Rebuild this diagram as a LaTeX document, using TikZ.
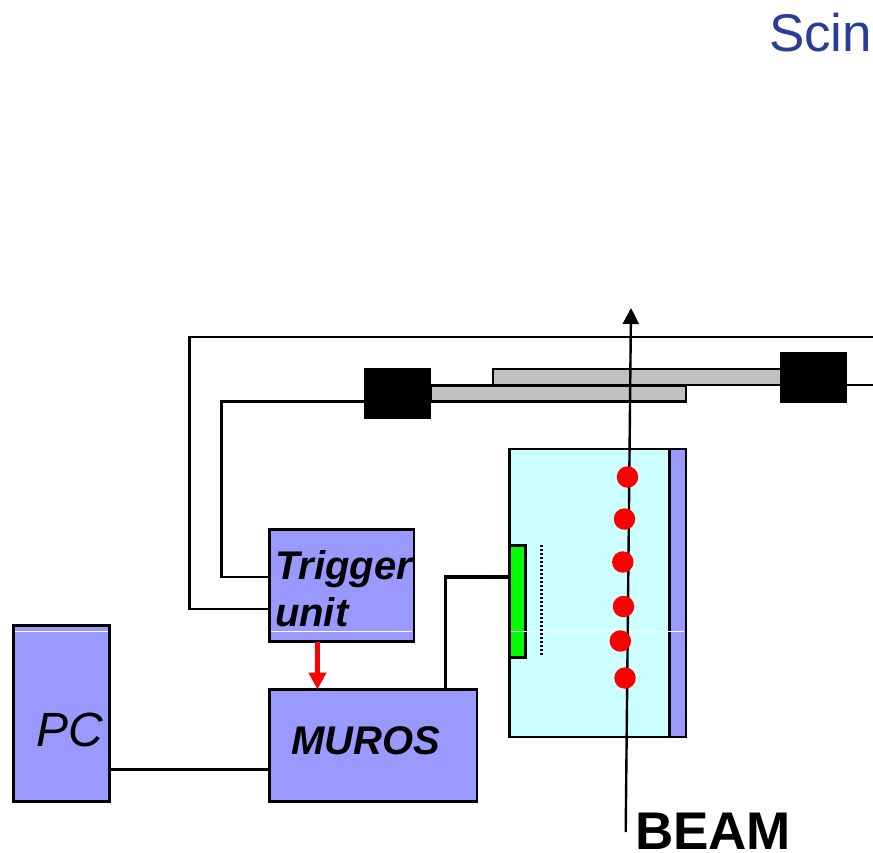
\documentclass[tikz,border=0pt]{standalone}
\usepackage{fontspec}
\setmainfont{Liberation Sans}
\usetikzlibrary{arrows.meta}
\definecolor{boxblue}{HTML}{9999FF}
\definecolor{tankcyan}{HTML}{CCFFFF}
\definecolor{barngray}{HTML}{C0C0C0}
\definecolor{titleblue}{HTML}{2A3C96}
\tikzset{
  x=1pt,y=-1pt,
  blockbox/.style={draw=black,line width=2.6pt,fill=boxblue,rectangle,inner sep=0pt,outer sep=0pt,anchor=north west},
  barbox/.style={blockbox,fill=barngray},
  pmbox/.style={fill=black,rectangle,inner sep=0pt,outer sep=0pt,anchor=north west},
  wire/.style={line width=2.6pt,line join=miter},
  thickwire/.style={line width=3.8pt,line join=miter},
  hit/.style={circle,fill=red,inner sep=0pt,minimum size=21.5pt},
  sheen/.style={white,line width=0.9pt},
  lab/.style={anchor=base west,inner sep=0pt,outer sep=0pt,text=black},
}
\begin{document}
\begin{tikzpicture}
\useasboundingbox (0,0) rectangle (873,853);
\begin{scope}
\clip (0,0) rectangle (873,853);

\node[lab,text=titleblue,font=\fontsize{53}{53}\selectfont] (title) at (769,52) {Scin};

\coordinate (edgeA) at (873,337);
\coordinate (edgeB) at (873,385);
\coordinate (beamS) at (625.7,832);
\coordinate (beamE) at (631,308);

% bars
\node[barbox,minimum width=288pt,minimum height=16pt] (barTop) at (493,369) {};
\node[barbox,minimum width=255pt,minimum height=16pt] (barLow) at (431,385.5) {};

% photomultipliers
\node[pmbox,minimum width=67pt,minimum height=51pt] (pmL) at (364.3,367.7) {};
\node[pmbox,minimum width=67pt,minimum height=51pt] (pmR) at (780.3,351.7) {};

% tank
\node[blockbox,fill=tankcyan,minimum width=160pt,minimum height=288pt] (tank) at (509.5,449) {};
\node[blockbox,minimum width=16.5pt,minimum height=288pt] (wall) at (669.5,449) {};
\node[blockbox,fill=green,minimum width=16pt,minimum height=112pt] (det) at (509.5,545.5) {};

% electronics
\node[blockbox,minimum width=144.3pt,minimum height=112pt] (trig) at (269.5,529.5) {};
\node[blockbox,minimum width=207.5pt,minimum height=112pt] (muros) at (269.5,689.5) {};
\node[blockbox,minimum width=96pt,minimum height=176pt] (pc) at (13.5,625.5) {};

% slide sheen lines
\draw[sheen] (15,631.5) -- (108,631.5);
\draw[sheen] (271,631.5) -- (412,631.5);
\draw[sheen] (511,631.5) -- (684,631.5);

% dotted plane
\coordinate (dotA) at (541.5,545);
\coordinate (dotB) at (541.5,655);
\draw[line width=2.4pt,dash pattern=on 2pt off 2pt] (dotA) -- (dotB);

% wires
\draw[wire] (edgeA) -| (189.5,609) -- (trig.west |- 0,609);
\draw[wire] (pmL.west |- 0,401.5) -| (221.5,577) -- (trig.west |- 0,577);
\draw[wire] (pmR.east |- edgeB) -- (edgeB);
\draw[thickwire] (pc.east |- 0,769.5) -- (muros.west |- 0,769.5);
\draw[thickwire] (muros.north -| 445.5,0) |- (det.west |- 0,577);
\draw[line width=4.6pt,red,-{Triangle[length=17pt,width=17pt]}] (trig.south -| 317.5,0) -- (muros.north -| 317.5,0);

% beam
\draw[line width=2.4pt,-{Triangle[length=16pt,width=16pt]}] (beamS) -- (beamE);

% hits
\node[hit] (h1) at (627.5,477) {};
\node[hit] (h2) at (624.5,519) {};
\node[hit] (h3) at (622.8,562) {};
\node[hit] (h4) at (623.5,606.5) {};
\node[hit] (h5) at (620.3,641) {};
\node[hit] (h6) at (625,678) {};

% labels
\node[lab,font=\fontsize{40}{40}\selectfont\bfseries\itshape] (tTrig) at (275,579) {Trigger};
\node[lab,font=\fontsize{40}{40}\selectfont\bfseries\itshape] (tUnit) at (275,626) {unit};
\node[lab,font=\fontsize{40}{40}\selectfont\bfseries\itshape] (tMuros) at (291,754) {MUROS};
\node[lab,font=\fontsize{48}{48}\selectfont\itshape] (tPC) at (36,746) {PC};
\node[lab,font=\fontsize{53}{53}\selectfont\bfseries] (tBeam) at (635,849) {BEAM};
\end{scope}
\end{tikzpicture}
\end{document}
